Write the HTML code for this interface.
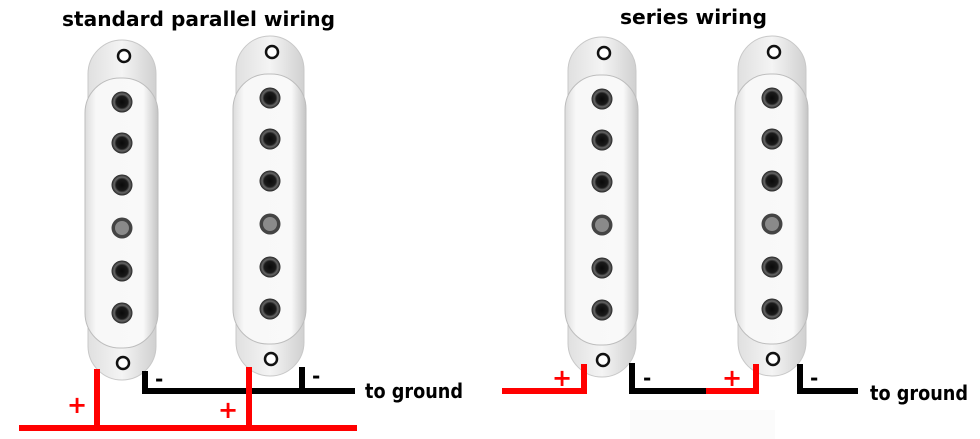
<!DOCTYPE html>
<html><head><style>
html,body{margin:0;padding:0;background:#fff;width:980px;height:439px;overflow:hidden}
svg{display:block}
text{font-family:"DejaVu Sans","Liberation Sans",sans-serif;font-weight:bold}
</style></head><body>
<svg width="980" height="439" viewBox="0 0 980 439" xmlns="http://www.w3.org/2000/svg">
<defs>
<linearGradient id="bg" x1="0" x2="1" y1="0" y2="0">
<stop offset="0" stop-color="#dcdcdc"/><stop offset="0.15" stop-color="#f8f8f8"/><stop offset="0.8" stop-color="#f9f9f9"/><stop offset="1" stop-color="#c4c4c4"/>
</linearGradient>
<linearGradient id="tb" x1="0" x2="1" y1="0" y2="0">
<stop offset="0" stop-color="#e0e0e0"/><stop offset="0.5" stop-color="#f4f4f4"/><stop offset="1" stop-color="#d0d0d0"/>
</linearGradient>
<radialGradient id="pole" cx="0.5" cy="0.5" r="0.5">
<stop offset="0" stop-color="#0a0a0a"/><stop offset="0.55" stop-color="#1a1a1a"/><stop offset="0.75" stop-color="#666"/><stop offset="1" stop-color="#222"/>
</radialGradient>
<g id="pk">
<rect x="-34" y="-16" width="68" height="340" rx="34" fill="url(#tb)" stroke="#c8c8c8"/>
<circle cx="2" cy="0" r="6" fill="#fff" stroke="#111" stroke-width="2.5"/>
<circle cx="1" cy="307" r="6" fill="#fff" stroke="#111" stroke-width="2.5"/>
<rect x="-37" y="22" width="73" height="270" rx="35" fill="url(#bg)" stroke="#bdbdbd"/>
<circle cx="0" cy="46" r="10.5" fill="url(#pole)"/>
<circle cx="0" cy="87" r="10.5" fill="url(#pole)"/>
<circle cx="0" cy="129" r="10.5" fill="url(#pole)"/>
<circle cx="0" cy="172" r="10.5" fill="#444"/>
<circle cx="0" cy="172" r="7" fill="#8a8a8a"/>
<circle cx="0" cy="215" r="10.5" fill="url(#pole)"/>
<circle cx="0" cy="257" r="10.5" fill="url(#pole)"/>
</g>
</defs>
<text x="62" y="26" font-size="20" textLength="273" lengthAdjust="spacingAndGlyphs">standard parallel wiring</text>
<text x="620" y="24" font-size="20" textLength="147" lengthAdjust="spacingAndGlyphs">series wiring</text>

<use href="#pk" x="122" y="56"/>
<use href="#pk" x="270" y="52"/>
<use href="#pk" x="602" y="53"/>
<use href="#pk" x="772" y="52"/>

<g fill="none" stroke-linecap="square">
<path d="M145 374 V391 H352" stroke="#000" stroke-width="6"/>
<path d="M302 370 V391" stroke="#000" stroke-width="6"/>
<path d="M97 372 V427" stroke="#f00" stroke-width="6"/>
<path d="M249 370 V427" stroke="#f00" stroke-width="6"/>
<path d="M22 428 H354" stroke="#f00" stroke-width="6"/>
</g>
<text x="67" y="413" font-size="24" fill="#f00">+</text>
<text x="218" y="418" font-size="24" fill="#f00">+</text>
<text x="155" y="386" font-size="20" fill="#000">-</text>
<text x="312" y="383" font-size="20" fill="#000">-</text>
<text x="365" y="398" font-size="20" textLength="98" lengthAdjust="spacingAndGlyphs">to ground</text>

<g fill="none">
<path d="M502 391 H584 V364" stroke="#f00" stroke-width="6"/>
<path d="M632 363 V391 H708" stroke="#000" stroke-width="6"/>
<path d="M706 391 H756 V364" stroke="#f00" stroke-width="6"/>
<path d="M800 364 V391 H858" stroke="#000" stroke-width="6"/>
</g>
<rect x="630" y="410" width="145" height="29" fill="#fbfbfb"/>
<text x="552" y="386" font-size="24" fill="#f00">+</text>
<text x="722" y="386" font-size="24" fill="#f00">+</text>
<text x="643" y="385" font-size="20">-</text>
<text x="810" y="385" font-size="20">-</text>
<text x="870" y="400" font-size="20" textLength="98" lengthAdjust="spacingAndGlyphs">to ground</text>
</svg>
</body></html>
